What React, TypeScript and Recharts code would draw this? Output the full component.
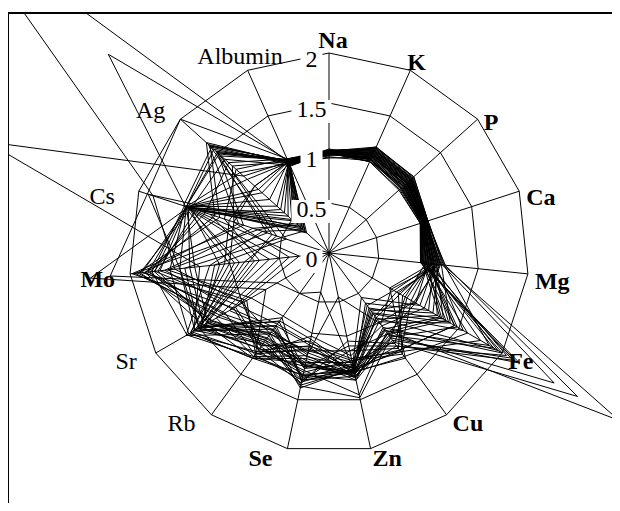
import React from 'react';
import { RadarChart, Radar, PolarGrid, PolarAngleAxis, PolarRadiusAxis } from 'recharts';

const CATEGORIES = ['Na', 'K', 'P', 'Ca', 'Mg', 'Fe', 'Cu', 'Zn', 'Se', 'Rb', 'Sr', 'Mo', 'Cs', 'Ag', 'Albumin'];
const BOLD_LABELS = ['Na', 'K', 'P', 'Ca', 'Mg', 'Fe', 'Cu', 'Zn', 'Se', 'Mo'];
const RADIUS_TICKS = [0, 0.5, 1, 1.5, 2];

// one value per sample (40 samples) for every element
const na = [1.00, 0.99, 1.01, 1.02, 0.98, 1.00, 1.03, 0.99, 1.01, 1.00, 0.97, 1.02, 1.00, 0.99, 1.01, 1.03, 0.96, 1.00, 1.02, 0.99, 1.01, 1.00, 0.98, 1.02, 1.01, 0.99, 1.00, 1.04, 0.98, 1.01, 1.00, 0.99, 1.02, 1.00, 0.95, 1.01, 1.00, 1.02, 0.99, 1.00];
const k = [1.05, 1.10, 1.02, 1.12, 1.08, 1.15, 1.03, 1.07, 1.13, 1.00, 1.09, 1.16, 1.04, 1.11, 1.06, 1.14, 1.01, 1.08, 1.12, 1.05, 1.10, 1.03, 1.15, 1.07, 1.09, 1.02, 1.13, 1.06, 1.11, 1.04, 1.08, 1.16, 1.00, 1.12, 1.05, 1.10, 1.07, 1.14, 1.03, 1.09];
const p = [1.05, 1.10, 0.98, 1.12, 1.02, 1.14, 0.96, 1.06, 1.10, 0.95, 1.04, 1.13, 1.00, 1.08, 1.03, 1.11, 0.97, 1.05, 1.09, 1.01, 1.07, 0.99, 1.12, 1.04, 1.06, 0.97, 1.10, 1.02, 1.08, 1.00, 1.05, 1.14, 0.94, 1.09, 1.03, 1.07, 1.01, 1.11, 0.98, 1.06];
const ca = [1.00, 1.02, 0.98, 1.03, 0.99, 1.04, 0.97, 1.01, 1.02, 0.96, 1.00, 1.03, 0.98, 1.01, 0.99, 1.02, 0.97, 1.00, 1.03, 0.99, 1.01, 0.98, 1.04, 1.00, 1.02, 0.97, 1.01, 0.99, 1.03, 0.98, 1.00, 1.04, 0.96, 1.02, 0.99, 1.01, 0.98, 1.03, 0.97, 1.00];
const mg = [1.02, 1.08, 0.95, 1.10, 1.00, 1.15, 0.93, 1.05, 1.12, 0.92, 1.03, 1.17, 0.98, 1.07, 1.01, 1.13, 0.94, 1.04, 1.09, 0.97, 1.06, 0.96, 1.14, 1.02, 1.08, 0.95, 1.11, 0.99, 1.05, 0.97, 1.03, 1.16, 0.92, 1.10, 1.00, 1.06, 0.98, 1.12, 0.94, 1.04];
const fe = [1.95, 0.80, 1.35, 1.20, 2.05, 3.35, 1.45, 0.75, 1.10, 2.20, 0.70, 2.87, 1.30, 1.55, 0.95, 1.40, 2.10, 0.85, 1.00, 1.90, 1.25, 1.60, 2.60, 0.90, 1.32, 2.00, 0.78, 1.45, 1.15, 0.88, 1.38, 1.85, 2.15, 0.72, 1.48, 1.05, 1.75, 0.98, 1.28, 0.82];
const cu = [0.80, 1.25, 1.00, 0.70, 1.15, 0.95, 1.20, 0.65, 0.90, 1.05, 1.30, 1.10, 0.98, 0.75, 1.22, 0.85, 1.08, 1.18, 0.72, 1.02, 0.82, 1.28, 1.00, 1.12, 0.68, 0.92, 0.78, 1.20, 0.62, 1.05, 0.74, 0.96, 1.15, 0.88, 1.04, 0.55, 1.22, 0.86, 0.94, 0.80];
const zn = [1.22, 1.10, 1.28, 1.19, 0.95, 1.24, 1.20, 1.16, 1.05, 1.30, 1.21, 1.12, 1.45, 1.18, 1.08, 1.23, 1.26, 1.00, 1.20, 1.27, 1.15, 1.22, 1.24, 0.90, 1.19, 1.30, 1.17, 1.10, 1.23, 1.48, 1.12, 1.20, 1.21, 0.45, 1.26, 1.14, 1.18, 0.85, 1.22, 1.25];
const se = [1.30, 0.95, 1.05, 1.35, 1.18, 0.90, 1.25, 1.32, 0.85, 1.10, 1.28, 1.00, 1.20, 1.38, 0.92, 1.08, 1.15, 1.30, 1.02, 0.96, 1.27, 1.16, 1.12, 1.33, 0.88, 1.25, 1.06, 1.22, 0.94, 1.36, 1.12, 0.40, 1.24, 1.04, 1.30, 1.18, 0.98, 0.82, 1.14, 1.15];
const rb = [0.90, 1.20, 1.28, 1.00, 0.85, 1.15, 1.30, 0.80, 1.25, 1.05, 0.95, 1.22, 1.18, 1.02, 0.88, 1.30, 1.12, 1.26, 0.98, 1.14, 0.92, 1.24, 1.08, 1.20, 0.84, 1.28, 1.00, 1.16, 0.90, 1.08, 1.30, 0.50, 1.18, 0.96, 1.12, 0.94, 1.25, 0.78, 1.06, 1.10];
const sr = [1.55, 1.10, 1.30, 1.65, 1.45, 1.00, 1.60, 1.50, 0.95, 1.35, 1.15, 1.62, 1.48, 1.25, 1.05, 1.42, 1.55, 1.20, 1.52, 1.45, 1.12, 1.58, 1.38, 0.98, 1.50, 1.64, 1.28, 1.08, 1.47, 1.40, 1.60, 0.60, 1.50, 1.22, 1.44, 1.56, 0.73, 0.90, 1.36, 1.40];
const mo = [0.90, 1.98, 0.50, 1.20, 1.85, 1.55, 1.00, 0.80, 1.70, 1.90, 0.40, 1.60, 1.10, 1.95, 1.75, 0.70, 1.50, 1.85, 0.95, 1.40, 1.65, 0.60, 1.80, 1.88, 0.85, 1.78, 1.92, 0.30, 1.15, 1.72, 1.05, 2.20, 1.45, 1.82, 0.75, 1.30, 2.40, 1.62, 1.76, 1.35];
const cs = [1.48, 0.90, 1.50, 0.70, 1.20, 1.85, 1.52, 0.60, 1.49, 1.45, 1.00, 1.51, 1.47, 0.75, 1.50, 1.10, 1.90, 0.95, 1.46, 1.48, 0.80, 1.53, 1.30, 1.49, 0.55, 1.52, 1.15, 1.50, 0.45, 1.40, 1.05, 1.91, 0.50, 1.50, 1.25, 3.60, 1.48, 0.65, 1.35, 1.50];
const ag = [0.40, 1.50, 1.20, 0.35, 1.65, 5.00, 0.30, 1.60, 0.50, 1.40, 1.30, 2.97, 0.60, 0.45, 1.55, 1.25, 0.38, 1.62, 0.55, 1.10, 0.42, 1.58, 1.35, 0.80, 1.45, 0.32, 1.60, 0.70, 1.50, 0.36, 1.00, 2.00, 0.33, 1.48, 0.65, 1.15, 0.90, 1.52, 0.48, 0.95];
const albumin = [1.00, 1.01, 0.98, 1.02, 0.99, 1.00, 0.97, 1.01, 1.03, 0.96, 1.00, 1.02, 0.99, 1.01, 0.98, 1.03, 0.97, 1.00, 1.02, 0.99, 1.01, 0.98, 1.03, 1.00, 1.02, 0.96, 1.01, 0.99, 1.02, 0.97, 1.00, 1.03, 0.95, 1.01, 0.99, 1.00, 0.98, 1.02, 0.97, 1.00];

const ELEMENT_VALUES = [na, k, p, ca, mg, fe, cu, zn, se, rb, sr, mo, cs, ag, albumin];
const SAMPLE_COUNT = na.length;
const SAMPLE_KEYS = Array.from({ length: SAMPLE_COUNT }, (_, i) => `s${i}`);

const data = CATEGORIES.map((name, j) => {
  const row: Record<string, string | number> = { axis: name };
  ELEMENT_VALUES[j].forEach((v, i) => {
    row[SAMPLE_KEYS[i]] = v;
  });
  return row;
});

const W = 611;
const H = 489;
const CX = 320;
const CY = 239;
const R = 200;
const FONT = '"Liberation Serif", "Times New Roman", Times, serif';

const LABEL_OFFSETS: Record<string, [number, number, 'start' | 'middle' | 'end']> = {
  Na: [4, -5, 'middle'],
  K: [-3, 0, 'start'],
  P: [6, 11, 'start'],
  Ca: [7, 14, 'start'],
  Mg: [7, 15, 'start'],
  Fe: [6, 16, 'start'],
  Cu: [6, 16, 'start'],
  Zn: [2, 17, 'start'],
  Se: [-15, 17, 'end'],
  Rb: [-16, 16, 'end'],
  Sr: [-19, 16, 'end'],
  Mo: [-15, 13, 'end'],
  Cs: [-24, 13, 'end'],
  Ag: [-15, -1, 'end'],
  Albumin: [35, -6, 'end'],
};

function AngleTick(props: any) {
  const name = String(props.payload?.value ?? '');
  const i = CATEGORIES.indexOf(name);
  if (i < 0) return null;
  const a = (i * 2 * Math.PI) / CATEGORIES.length;
  const vx = CX + R * Math.sin(a);
  const vy = CY - R * Math.cos(a);
  const [dx, dy, anchor] = LABEL_OFFSETS[name];
  return (
    <text
      x={vx + dx}
      y={vy + dy}
      textAnchor={anchor}
      fontFamily={FONT}
      fontSize={24}
      fontWeight={BOLD_LABELS.includes(name) ? 'bold' : 'normal'}
      fill="#000"
    >
      {name}
    </text>
  );
}

function RadiusTick(props: any) {
  const { x, y, payload } = props;
  const label = String(payload?.value);
  const tw = label.split('').reduce((s, c) => s + (c === '.' ? 6 : 12), 0);
  const bw = tw + 10;
  const tx = x - 17.5;
  return (
    <g>
      <rect x={tx - bw / 2} y={y - 3} width={bw} height={23} fill="#fff" />
      <text x={tx} y={y + 14} textAnchor="middle" fontFamily={FONT} fontSize={24} fill="#000">
        {label}
      </text>
    </g>
  );
}

export default function App() {
  return (
    <div
      style={{
        position: 'relative',
        marginLeft: -1,
        marginTop: 4,
        width: W,
        height: H,
        borderLeft: '2px solid #000',
        borderTop: '2px solid #000',
        overflow: 'hidden',
        background: '#fff',
      }}
    >
      <RadarChart
        width={W}
        height={H}
        data={data}
        cx={CX}
        cy={CY}
        outerRadius={R}
        startAngle={90}
        endAngle={-270}
        margin={{ top: 0, right: 0, bottom: 0, left: 0 }}
      >
        <PolarGrid gridType="polygon" stroke="#000" strokeOpacity={1} strokeWidth={1} />
        <PolarAngleAxis dataKey="axis" tick={AngleTick} tickLine={false} axisLine={false} />
        {SAMPLE_KEYS.map((key) => (
          <Radar
            key={key}
            dataKey={key}
            stroke="#000"
            strokeWidth={1}
            fill="none"
            fillOpacity={0}
            dot={false}
            isAnimationActive={false}
          />
        ))}
        <PolarRadiusAxis
          angle={90}
          type="number"
          domain={[RADIUS_TICKS[0], RADIUS_TICKS[RADIUS_TICKS.length - 1]]}
          ticks={RADIUS_TICKS as any}
          tickCount={RADIUS_TICKS.length}
          allowDataOverflow
          axisLine={false}
          tickLine={false}
          tick={RadiusTick}
        />
      </RadarChart>
    </div>
  );
}
